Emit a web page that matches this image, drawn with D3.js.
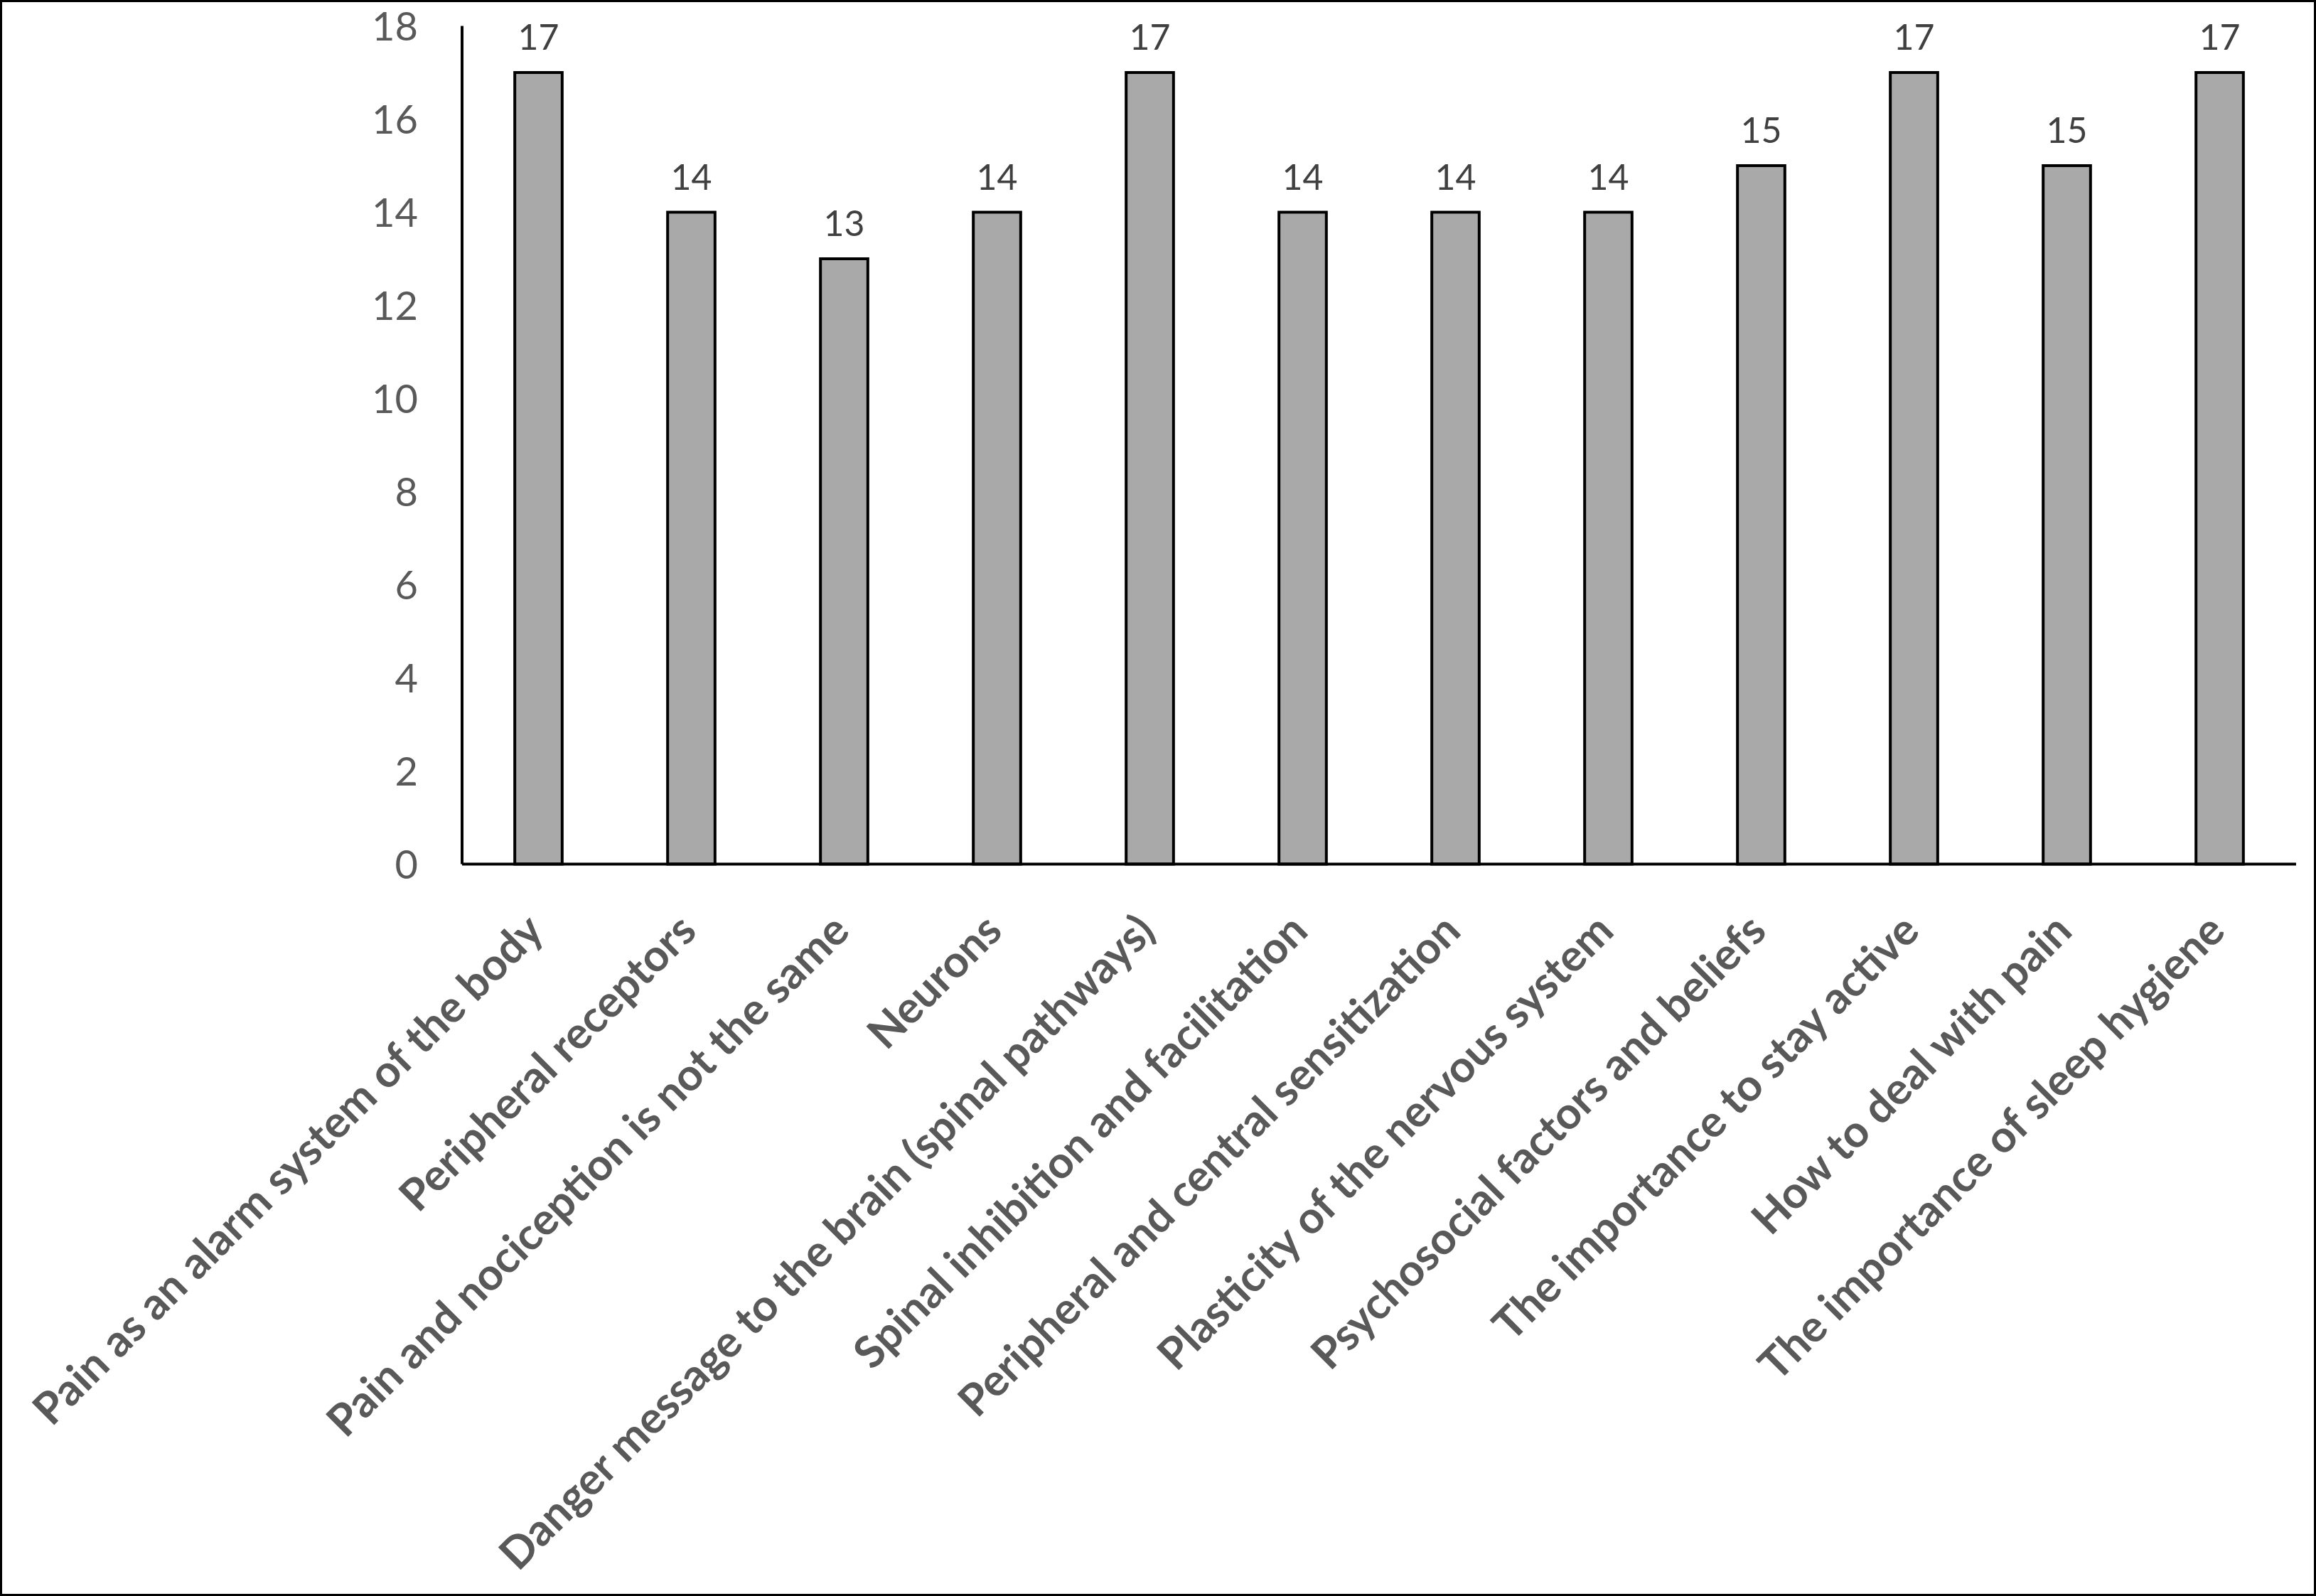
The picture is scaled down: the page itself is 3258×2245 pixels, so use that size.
<!DOCTYPE html>
<html>
<head>
<meta charset="utf-8">
<script src="https://cdn.jsdelivr.net/npm/d3@7"></script>
<style>
  html, body { margin: 0; padding: 0; background: #fff; }
  svg { display: block; }
</style>
</head>
<body>
<script>
const categories = [
  "Pain as an alarm system of the body",
  "Peripheral receptors",
  "Pain and nociception is not the same",
  "Neurons",
  "Danger message to the brain (spinal pathways)",
  "Spinal inhibition and facilitation",
  "Peripheral and central sensitization",
  "Plasticity of the nervous system",
  "Psychosocial factors and beliefs",
  "The importance to stay active",
  "How to deal with pain",
  "The importance of sleep hygiene"
];
const values = [17, 14, 13, 14, 17, 14, 14, 14, 15, 17, 15, 17];
const yTicks = [0, 2, 4, 6, 8, 10, 12, 14, 16, 18];

const W = 3258, H = 2245;
const plot = { left: 650, right: 3230, top: 36.5, bottom: 1215.5 };
const font = "Lato, 'Open Sans', 'DejaVu Sans', sans-serif";

const svg = d3.select("body").append("svg")
  .attr("width", W).attr("height", H);

svg.append("rect").attr("x", 0).attr("y", 0).attr("width", W).attr("height", H)
  .attr("fill", "#fff");

const x = d3.scaleBand().domain(categories)
  .range([plot.left, plot.right]).paddingInner(0.69).paddingOuter(0.345);
const y = d3.scaleLinear().domain([0, 18]).range([plot.bottom, plot.top]);

// Bars
svg.append("g").selectAll("rect").data(values).join("rect")
  .attr("x", (d, i) => x(categories[i]))
  .attr("y", d => y(d))
  .attr("width", x.bandwidth())
  .attr("height", d => y(0) - y(d))
  .attr("fill", "#a9a9a9")
  .attr("stroke", "#000")
  .attr("stroke-width", 4);

// Value labels
svg.append("g").selectAll("text").data(values).join("text")
  .attr("x", (d, i) => x(categories[i]) + x.bandwidth() / 2)
  .attr("y", d => y(d) - 32)
  .attr("text-anchor", "middle")
  .attr("font-family", font)
  .attr("font-size", 50)
  .attr("fill", "#404040")
  .text(d => d);

// Y axis
const yAxis = d3.axisLeft(y).tickValues(yTicks).tickSize(0).tickPadding(62)
  .tickFormat(d3.format("d"));
const gy = svg.append("g").attr("transform", `translate(${plot.left},0)`).call(yAxis);
gy.select(".domain").attr("stroke", "#000").attr("stroke-width", 4)
  .attr("d", `M0,${plot.top}V${plot.bottom}`);
gy.selectAll("text").attr("font-family", font).attr("font-size", 56)
  .attr("fill", "#595959").attr("dy", "0.35em");

// X axis
const xAxis = d3.axisBottom(x).tickSize(0).tickFormat("");
const gx = svg.append("g").attr("transform", `translate(0,${plot.bottom})`).call(xAxis);
gx.select(".domain").attr("stroke", "#000").attr("stroke-width", 4)
  .attr("d", `M${plot.left},0H${plot.right}`);

// Category labels
svg.append("g").selectAll("text").data(categories).join("text")
  .attr("transform", d => `translate(${x(d) + x.bandwidth() / 2 - 5},${plot.bottom + 82}) rotate(-45)`)
  .attr("text-anchor", "end")
  .attr("dy", "0.35em")
  .attr("font-family", font)
  .attr("font-weight", 700)
  .attr("font-size", 62)
  .attr("fill", "#595959")
  .text(d => d);

// Outer frame
svg.append("rect").attr("x", 1.5).attr("y", 1.5).attr("width", W - 3).attr("height", H - 3)
  .attr("fill", "none").attr("stroke", "#000").attr("stroke-width", 3);
</script>
</body>
</html>
